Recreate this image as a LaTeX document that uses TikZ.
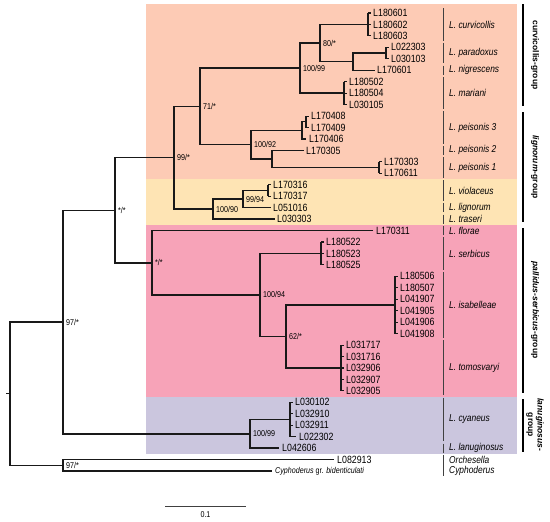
\documentclass[tikz,border=0pt]{standalone}
\usepackage{fontspec}
\setmainfont{Liberation Sans}
\newfontfamily\nf{Liberation Sans}[FakeStretch=0.84]
\definecolor{salmonc}{HTML}{FDCBB5}
\definecolor{yellc}{HTML}{FEE4B4}
\definecolor{pinkc}{HTML}{F7A3B8}
\definecolor{lavc}{HTML}{CBC6DE}
\begin{document}
\begin{tikzpicture}[x=1pt,y=-1pt,
  declare function={ry(\i)=13+11.45*(\i-1);},
  tree/.style={line width=1.5pt, black!90, line join=miter},
  tk/.style={line width=1.1pt, black!90},
  tip/.style={anchor=west, inner sep=0pt, font=\nf\fontsize{10.5}{11}\selectfont},
  boot/.style={anchor=west, inner sep=0pt, font=\nf\fontsize{8.5}{9}\selectfont},
  sp/.style={anchor=west, inner sep=0pt, font=\nf\itshape\fontsize{10}{11}\selectfont},
  grp/.style={rotate=-90, inner sep=0pt, font=\bfseries\fontsize{8.5}{9.5}\selectfont, align=center},
  sepl/.style={line width=0.8pt, black!75},
  gbar/.style={line width=1.5pt, black}]
\fill[white] (0,0) rectangle (550,522);
\useasboundingbox (0,0) rectangle (550,522);
% backgrounds
\fill[salmonc] (146,4) rectangle (517,179);
\fill[yellc] (146,179) rectangle (517,224.8);
\fill[pinkc] (146,224.8) rectangle (517,396.6);
\fill[lavc] (146,396.6) rectangle (517,453.8);
% internal nodes
\coordinate (root0) at (6,393.65);
\coordinate (root) at (10,393.65);
\coordinate (ing) at (63,322.02);
\coordinate (out) at (63,465.28);
\coordinate (A) at (115,210.25);
\coordinate (lan) at (250,433.79);
\coordinate (B) at (174,157.74);
\coordinate (pal) at (152,262.76);
\coordinate (C) at (200,106.39);
\coordinate (D) at (213,209.08);
\coordinate (E) at (300,68.1);
\coordinate (F) at (251,144.68);
\coordinate (G) at (320,43.06);
\coordinate (H) at (353,61.66);
\coordinate (P3) at (302,130.36);
\coordinate (P3i) at (306,121.78);
\coordinate (J) at (272,158.99);
\coordinate (K) at (243,199.06);
\coordinate (M) at (260,294.96);
\coordinate (N) at (286,336.46);
% bracket mids
\coordinate (bCur) at (368,24.45);
\coordinate (bPar) at (386,53.075);
\coordinate (bMar) at (344,93.15);
\coordinate (bPe1) at (379,167.575);
\coordinate (bVio) at (268,190.475);
\coordinate (bSer) at (321,253.45);
\coordinate (bIsa) at (395,304.975);
\coordinate (bTom) at (341,367.95);
\coordinate (bCya) at (290,419.475);
% single tip ends
\coordinate (e6) at (375,{ry(6)});
\coordinate (e12) at (306,{ry(12)});
\coordinate (e13) at (304,{ry(13)});
\coordinate (e18) at (271,{ry(18)});
\coordinate (e19) at (275,{ry(19)});
\coordinate (e20) at (373,{ry(20)});
\coordinate (e39) at (279,{ry(39)});
\coordinate (e40) at (334,{ry(40)});
\coordinate (e41) at (272,{ry(41)});
% edges (one path per internal node)
\draw[tree] (root0) -- (root);
\draw[tree] (ing) -| (root) |- (out);
\draw[tree] (A) -| (ing) |- (lan);
\draw[tree] (e40) -| (out) |- (e41);
\draw[tree] (B) -| (A) |- (pal);
\draw[tree] (C) -| (B) |- (D);
\draw[tree] (E) -| (C) |- (F);
\draw[tree] (G) -| (E) |- (bMar);
\draw[tree] (bCur) -| (G) |- (H);
\draw[tree] (bPar) -| (H) |- (e6);
\draw[tree] (P3) -| (F) |- (J);
\draw[tk] (P3i) -| (P3) |- (e12);
\draw[tree] (e13) -| (J) |- (bPe1);
\draw[tree] (K) -| (D) |- (e19);
\draw[tree] (bVio) -| (K) |- (e18);
\draw[tree] (e20) -| (pal) |- (M);
\draw[tree] (bSer) -| (M) |- (N);
\draw[tree] (bIsa) -| (N) |- (bTom);
\draw[tree] (bCya) -| (lan) |- (e39);
% brackets
\foreach \xb/\a/\b in {368/1/3, 386/4/5, 344/7/9, 306/10/11, 379/14/15, 268/16/17, 321/21/23, 395/24/29, 341/30/34, 290/35/38}{
  \draw[tk] (\xb,{ry(\a)}) -- (\xb,{ry(\b)});
  \foreach \i in {\a,...,\b} \draw[tk] (\xb,{ry(\i)}) -- ++(3,0);
}
\draw[tk] (290,{ry(38)}) -- ++(6,0);
% tip labels
\foreach \i/\x/\t in {1/373/L180601, 2/373/L180602, 3/373/L180603, 4/391/L022303, 5/391/L030103,
  6/377/L170601, 7/349/L180502, 8/349/L180504, 9/349/L030105, 10/311/L170408, 11/311/L170409,
  12/309/L170406, 13/306/L170305, 14/384/L170303, 15/384/L170611, 16/273/L170316, 17/273/L170317,
  18/273/L051016, 19/277/L030303, 20/376/L170311, 21/326/L180522, 22/326/L180523, 23/326/L180525,
  24/400/L180506, 25/400/L180507, 26/400/L041907, 27/400/L041905, 28/400/L041906, 29/400/L041908,
  30/346/L031717, 31/346/L031716, 32/346/L032906, 33/346/L032907, 34/346/L032905,
  35/295/L030102, 36/295/L032910, 37/295/L032911, 38/299/L022302, 39/282/L042606, 40/337/L082913}
  \node[tip] (t\i) at (\x,{ry(\i)}) {\t};
\node[tip, font=\nf\fontsize{8.5}{9}\selectfont] (t41) at (275,{ry(41)}) {\textit{Cyphoderus} gr. \textit{bidenticulati}};
% bootstrap labels
\node[boot] (lG) at ([xshift=3pt]G) {80/*};
\node[boot] (lE) at ([xshift=3pt]E) {100/99};
\node[boot] (lC) at ([xshift=3pt]C) {71/*};
\node[boot] (lF) at ([xshift=3pt]F) {100/92};
\node[boot] (lB) at ([xshift=3pt]B) {99/*};
\node[boot] (lK) at ([xshift=3pt]K) {99/94};
\node[boot] (lD) at ([xshift=3pt]D) {100/90};
\node[boot] (lA) at ([xshift=3pt]A) {*/*};
\node[boot] (lpal) at ([xshift=3pt]pal) {*/*};
\node[boot] (lM) at ([xshift=3pt]M) {100/94};
\node[boot] (lN) at ([xshift=3pt]N) {62/*};
\node[boot] (ling) at ([xshift=3pt]ing) {97/*};
\node[boot] (llan) at ([xshift=3pt]lan) {100/99};
\node[boot] (lout) at ([xshift=3pt]out) {97/*};
% separator segments
\foreach \a/\b in {1/3, 4/5, 6/6, 7/9, 10/12, 13/13, 14/15, 16/17, 18/18, 19/19, 20/20, 21/23, 24/29, 30/34, 35/38, 39/39, 40/41}
  \draw[sepl] (443,{ry(\a)-4.6}) -- (443,{ry(\b)+4.6});
% species labels
\foreach \y/\t [count=\k] in {24.45/L. curvicollis, 53.075/L. paradoxus, 70.25/L. nigrescens, 93.15/L. mariani,
  127.5/L. peisonis 3, 150.4/L. peisonis 2, 167.575/L. peisonis 1, 190.475/L. violaceus, 207.65/L. lignorum,
  219.1/L. traseri, 230.55/L. florae, 253.45/L. serbicus, 304.975/L. isabelleae, 367.95/L. tomosvaryi,
  419.475/L. cyaneus, 448.1/L. lanuginosus, 459.55/Orchesella, 471/Cyphoderus}
  \node[sp] (s\k) at (449,\y) {\t};
% group bars
\draw[gbar] (523,4) -- (523,106);
\draw[gbar] (523,112) -- (523,222);
\draw[gbar] (523,228) -- (523,393);
\draw[gbar] (523,399) -- (523,452);
\node[grp] (g1) at (535,55) {curvicollis-group};
\node[grp] (g2) at (535,167) {\textit{lignorum}-group};
\node[grp] (g3) at (535,310) {\textit{pallidus-serbicus}-group};
\node[grp] (g4) at (535,425) {\textit{lanuginosus}-\\group};
% scale bar
\coordinate (sb1) at (165,506);
\coordinate (sb2) at (246,506);
\draw[line width=0.9pt, black!75] (sb1) -- (sb2);
\node[inner sep=0pt, font=\nf\fontsize{8.5}{9}\selectfont] (sbl) at (205.5,515) {0.1};
\end{tikzpicture}
\end{document}
